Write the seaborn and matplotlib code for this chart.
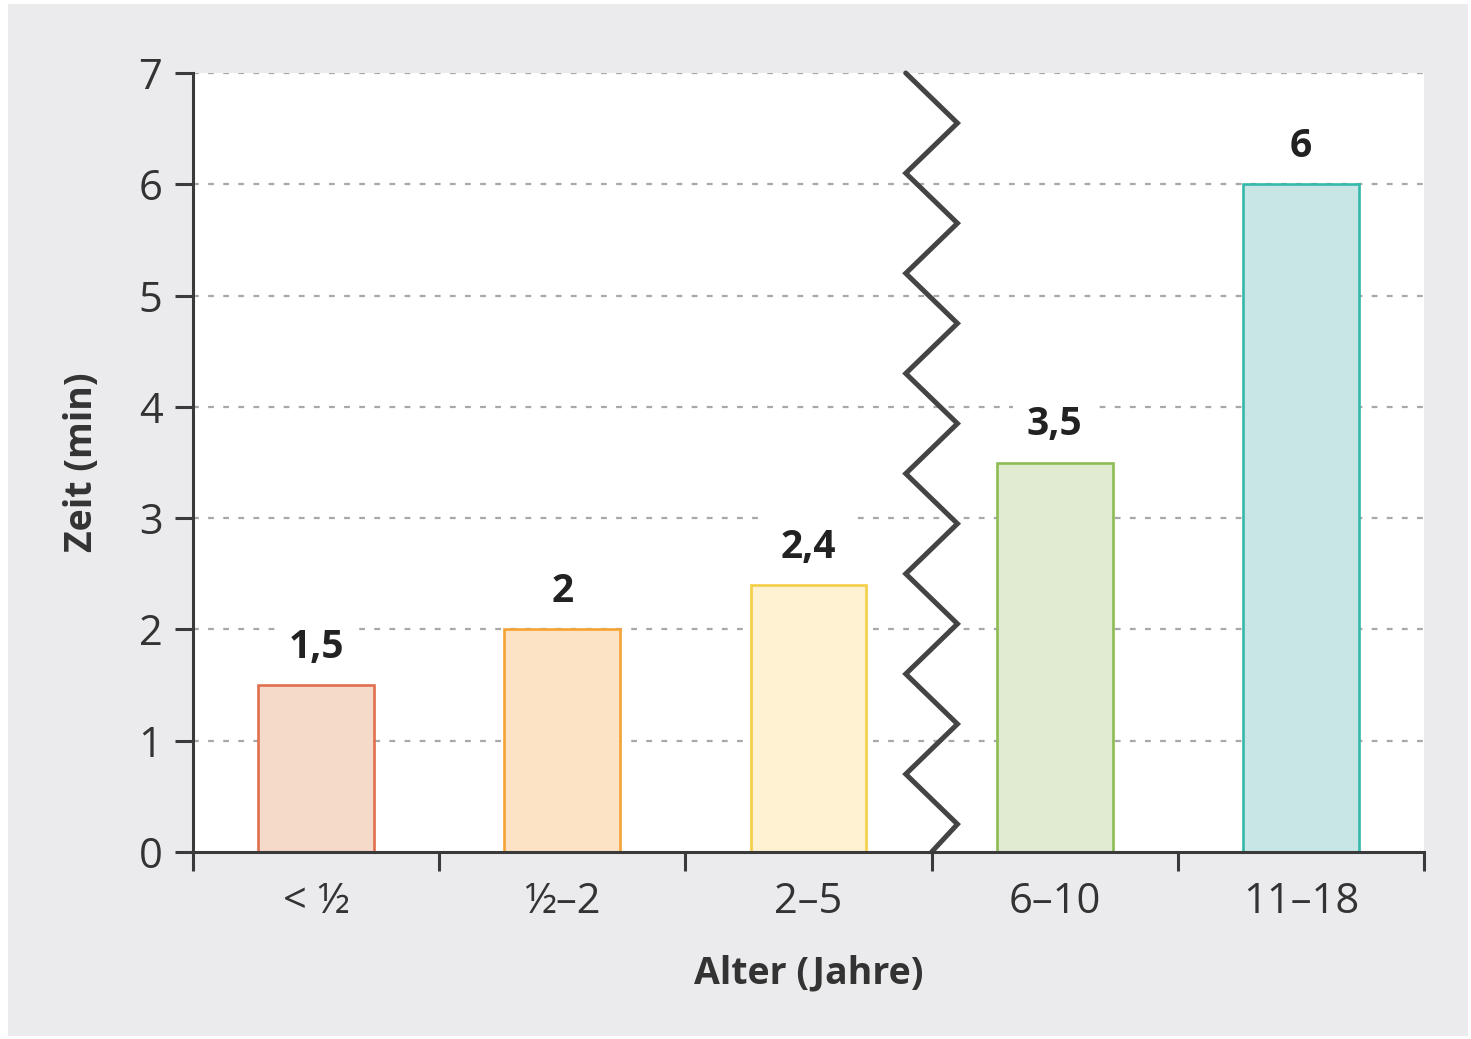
import matplotlib
matplotlib.use("Agg")
import matplotlib.pyplot as plt
from matplotlib.patches import Rectangle
import numpy as np
import pandas as pd
import seaborn as sns

# Data
age_groups = ["< ½", "½–2", "2–5", "6–10", "11–18"]
minutes = [1.5, 2, 2.4, 3.5, 6]
value_labels = ["1,5", "2", "2,4", "3,5", "6"]
y_ticks = [0, 1, 2, 3, 4, 5, 6, 7]

# Styles
fill_colors = ["#f5d9c9", "#fde3c5", "#fef2d2", "#e1ebd1", "#c9e6e6"]
edge_colors = ["#e0704f", "#f7a235", "#f5cf45", "#8cbc55", "#35b9aa"]
axis_color = "#3a3a3a"
panel_grey = "#ebebed"

sns.set_theme(style="white")
plt.rcParams["font.family"] = ["Open Sans", "DejaVu Sans"]

df = pd.DataFrame({"Alter": age_groups, "Zeit": minutes})

fig = plt.figure(figsize=(14.71, 10.39), dpi=100, facecolor="white")
fig.patches.append(Rectangle((8 / 1471, 3 / 1039), 1460 / 1471, 1032 / 1039,
                             transform=fig.transFigure, facecolor=panel_grey,
                             edgecolor="none", zorder=-10))

ax = fig.add_axes([193 / 1471, 1 - 852 / 1039, 1231 / 1471, 779 / 1039])
ax.set_facecolor("white")

sns.barplot(data=df, x="Alter", y="Zeit", hue="Alter", order=age_groups,
            hue_order=age_groups, palette=fill_colors, saturation=1,
            width=0.47, legend=False, ax=ax, zorder=3)
for patch, ec in zip(ax.patches, edge_colors):
    patch.set_edgecolor(ec)
    patch.set_linewidth(1.9)

ax.set_xlim(-0.5, len(age_groups) - 0.5)
ax.set_ylim(0, 7)

# Dotted horizontal grid
for y in y_ticks[1:]:
    ax.axhline(y, color="#a8a8a8", lw=1.6, ls=(0, (2.6, 4.2)), zorder=1)

# Value labels on a white backing that interrupts the grid
for i, (v, lab) in enumerate(zip(minutes, value_labels)):
    ax.annotate(lab, xy=(i, v), xytext=(0, 27), textcoords="offset points",
                ha="center", va="center", fontsize=28, fontweight="bold",
                color="#222222", zorder=4,
                bbox=dict(boxstyle="square,pad=0.35", facecolor="white",
                          edgecolor="none"))

# Axis break marker between the two age ranges
brk = 2.5
amp = 0.105
ys = list(np.arange(7, 0.2, -0.45)) + [0]
xs = [brk - amp if k % 2 == 0 else brk + amp for k in range(len(ys) - 1)] + [brk]
ax.plot(xs, ys, color="#444444", lw=3.6, solid_joinstyle="miter", zorder=5,
        clip_on=False)

# Spines and ticks
for s in ["top", "right"]:
    ax.spines[s].set_visible(False)
for s in ["left", "bottom"]:
    ax.spines[s].set_color(axis_color)
    ax.spines[s].set_linewidth(2.2)
    ax.spines[s].set_zorder(6)

boundaries = np.arange(-0.5, len(age_groups), 1.0)
ax.set_xticks(boundaries)
ax.set_xticklabels([""] * len(boundaries))
ax.set_xticks(range(len(age_groups)), minor=True)
ax.set_xticklabels(age_groups, minor=True)
ax.tick_params(axis="x", which="major", direction="out", length=14, width=2.2,
               color=axis_color, bottom=True)
ax.tick_params(axis="x", which="minor", length=0, pad=21, labelsize=30,
               labelcolor="#333333", bottom=True)

ax.set_yticks(y_ticks)
ax.set_yticklabels([str(t) for t in y_ticks])
ax.tick_params(axis="y", direction="out", length=13, width=2.2,
               color=axis_color, pad=9, labelsize=30, labelcolor="#333333",
               left=True)

ax.set_xlabel("")
ax.set_ylabel("")
fig.text(809 / 1471, 1 - 973 / 1039, "Alter (Jahre)", ha="center", va="center",
         fontsize=27, fontweight="bold", color="#333333")
fig.text(82 / 1471, 1 - 462 / 1039, "Zeit (min)", ha="center", va="center",
         rotation=90, fontsize=27, fontweight="bold", color="#333333")

fig.savefig("out.png", dpi=100, facecolor=fig.get_facecolor())
